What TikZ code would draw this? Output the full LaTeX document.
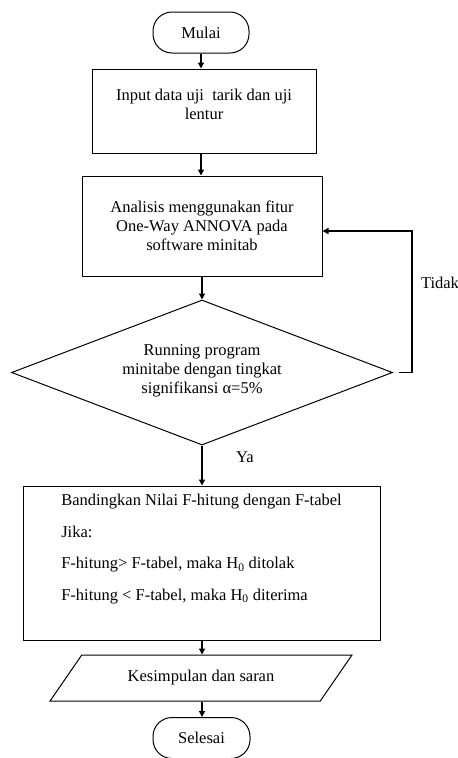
\documentclass[tikz,border=0pt]{standalone}
\usepackage{fontspec}
\setmainfont{Liberation Serif}
\usetikzlibrary{positioning,calc,arrows.meta,shapes.geometric}

\begin{document}
\begin{tikzpicture}[x=1pt, y=1pt,
  font=\fontsize{16.5}{19}\selectfont,
  terminal/.style={rectangle, draw, line width=1pt, rounded corners=19pt, minimum width=96pt, minimum height=41pt, inner sep=0pt},
  process/.style={rectangle, draw, line width=1pt, align=center, inner sep=0pt},
  decision/.style={diamond, draw, line width=1pt, aspect=2.63, minimum width=381pt, minimum height=145pt, inner sep=0pt, align=center},
  data/.style={trapezium, trapezium left angle=37.5, trapezium right angle=142.5, trapezium stretches=true, draw, line width=1pt, minimum width=302pt, minimum height=46pt, inner sep=0pt},
  arrow/.style={-{Triangle[length=6pt, width=6pt]}, line width=1.2pt}
]
\useasboundingbox (0,0) rectangle (458,-758);
\node[terminal] (mulai) at (201,-32.5) {Mulai};
\node[process, minimum width=224pt, minimum height=84pt] (input) at (204,-111) {Input data uji~ tarik dan uji\\lentur\\[-6pt]\mbox{}};
\node[process, minimum width=240pt, minimum height=100pt] (analisis) at (202,-226) {Analisis menggunakan fitur\\One-Way ANNOVA pada\\software minitab};
\node[decision] (running) at (202,-372.5) {Running program\\minitabe dengan tingkat\\signifikansi α=5\%\\[-12pt]\mbox{}};
\node[process, align=left, minimum width=357pt, minimum height=154pt] (banding) at (201.5,-563) {Bandingkan Nilai F-hitung dengan F-tabel\\[12.5pt]Jika:\\[12.5pt]F-hitung> F-tabel, maka H\textsubscript{0} ditolak\\[12.5pt]F-hitung < F-tabel, maka H\textsubscript{0} diterima\\[12.5pt]\mbox{}};
\node[data] (simpulan) at (201,-678) {Kesimpulan dan saran};
\node[terminal, minimum width=97pt] (selesai) at (201.5,-738) {Selesai};
\coordinate (balik) at (412,-372.5);
% alur utama
\draw[arrow] (mulai) -- (mulai |- input.north);
\draw[arrow] (mulai |- input.south) -- (mulai |- analisis.north);
\draw[arrow] (analisis.south) -- (running.north);
\draw[arrow] (running.south) -- (running.south |- banding.north);
\draw[arrow] (running.south |- banding.south) -- (running.south |- simpulan.north);
\draw[arrow] (running.south |- simpulan.south) -- (running.south |- selesai.north);
% kembali jika tidak
\draw[arrow, line width=1.6pt] ([xshift=6pt]running.east) -- (balik) |- ([yshift=-5pt]analisis.east);
\node (tidak) at (440,-283) {Tidak};
\node (ya) at (245,-457) {Ya};
\end{tikzpicture}
\end{document}
